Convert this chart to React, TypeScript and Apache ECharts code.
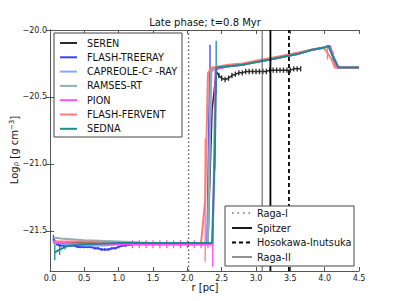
import React, { useEffect, useRef } from "react";
import * as echarts from "echarts";

// ---------- data ----------
const serenR = [0.05, 0.5, 1.0, 1.5, 2.0, 2.3, 2.36, 2.42, 2.46, 2.5, 2.55, 2.6, 2.65, 2.7, 2.75, 2.8, 2.85, 2.9, 2.95, 3.0, 3.05, 3.1, 3.15, 3.2, 3.25, 3.3, 3.35, 3.4, 3.45, 3.5, 3.55, 3.6, 3.65];
const serenY = [-21.58, -21.59, -21.59, -21.59, -21.59, -21.59, -20.6, -20.31, -20.34, -20.36, -20.37, -20.36, -20.34, -20.33, -20.32, -20.32, -20.31, -20.31, -20.31, -20.31, -20.31, -20.31, -20.31, -20.3, -20.3, -20.3, -20.3, -20.3, -20.3, -20.3, -20.29, -20.29, -20.29];
const serenErr = [0, 0, 0, 0, 0, 0, 0, 0, 0.02, 0.02, 0.02, 0.02, 0.02, 0.02, 0.02, 0.02, 0.02, 0.02, 0.02, 0.02, 0.02, 0.02, 0.02, 0.02, 0.02, 0.02, 0.02, 0.02, 0.02, 0.02, 0.02, 0.02, 0.02];

const treerayR = [0.05, 0.1, 0.15, 0.2, 0.25, 0.3, 0.35, 0.4, 0.45, 0.5, 0.55, 0.6, 0.65, 0.7, 0.75, 0.8, 0.85, 0.9, 0.95, 1.0, 1.05, 1.1, 1.2, 1.4, 1.6, 1.8, 2.0, 2.2, 2.29, 2.33, 2.38, 2.6, 2.8, 3.0, 3.2, 3.4, 3.6, 3.8, 4.0, 4.07, 4.12, 4.18, 4.5];
const treerayY = [-21.56, -21.6, -21.61, -21.61, -21.61, -21.61, -21.61, -21.62, -21.62, -21.62, -21.62, -21.62, -21.63, -21.63, -21.64, -21.64, -21.64, -21.63, -21.63, -21.62, -21.61, -21.61, -21.6, -21.6, -21.6, -21.6, -21.6, -21.6, -21.6, -20.3, -20.29, -20.27, -20.26, -20.24, -20.22, -20.2, -20.18, -20.15, -20.13, -20.12, -20.19, -20.28, -20.28];
const treerayErr = [0.03, 0.01, 0.01, 0.01, 0.01, 0.01, 0.01, 0.01, 0.01, 0.01, 0.01, 0.01, 0.01, 0.01, 0.01, 0.01, 0.01, 0.01, 0.01, 0.01, 0.01, 0.01, 0, 0, 0, 0, 0, 0, 0, 0.19, 0, 0, 0, 0, 0, 0, 0, 0, 0, 0, 0, 0, 0];

const capreoleR = [0.05, 0.2, 0.5, 0.8, 1.0, 1.5, 2.0, 2.3, 2.34, 2.38, 2.6, 2.8, 3.0, 3.2, 3.4, 3.6, 3.8, 4.0, 4.06, 4.14, 4.2, 4.5];
const capreoleY = [-21.58, -21.6, -21.61, -21.61, -21.6, -21.59, -21.59, -21.59, -20.32, -20.29, -20.27, -20.26, -20.24, -20.22, -20.2, -20.18, -20.15, -20.13, -20.12, -20.22, -20.28, -20.28];

const ramsesR = [0.05, 0.2, 0.5, 1.0, 1.5, 2.0, 2.3, 2.35, 2.4, 2.6, 2.8, 3.0, 3.2, 3.4, 3.6, 3.8, 4.0, 4.05, 4.15, 4.2, 4.5];
const ramsesY = [-21.55, -21.56, -21.57, -21.58, -21.59, -21.59, -21.59, -20.31, -20.29, -20.27, -20.26, -20.24, -20.22, -20.2, -20.18, -20.15, -20.13, -20.12, -20.22, -20.28, -20.28];

const pionR = [0.05, 0.2, 0.5, 1.0, 1.2, 1.3, 1.4, 1.5, 1.6, 1.7, 1.8, 1.9, 2.0, 2.1, 2.2, 2.3, 2.37, 2.41, 2.45, 2.6, 2.8, 3.0, 3.2, 3.4, 3.6, 3.8, 4.0, 4.08, 4.17, 4.5];
const pionY = [-21.59, -21.59, -21.6, -21.6, -21.6, -21.6, -21.6, -21.6, -21.6, -21.6, -21.6, -21.6, -21.6, -21.6, -21.6, -21.6, -21.6, -20.3, -20.29, -20.27, -20.26, -20.24, -20.22, -20.2, -20.18, -20.15, -20.13, -20.12, -20.28, -20.28];
const pionErr = [0, 0, 0, 0, 0.03, 0.03, 0.03, 0.03, 0.03, 0.03, 0.03, 0.03, 0.03, 0.03, 0.03, 0.03, 0.17, 0, 0, 0, 0, 0, 0, 0, 0, 0, 0, 0, 0, 0];

const ferventR = [0.05, 0.3, 0.6, 1.0, 1.5, 2.0, 2.2, 2.26, 2.3, 2.36, 2.6, 2.8, 3.0, 3.2, 3.4, 3.6, 3.8, 3.98, 4.04, 4.1, 4.15, 4.5];
const ferventY = [-21.58, -21.58, -21.58, -21.59, -21.59, -21.59, -21.59, -21.27, -20.32, -20.28, -20.26, -20.25, -20.23, -20.21, -20.19, -20.17, -20.15, -20.13, -20.17, -20.22, -20.28, -20.28];
const ferventErr = [0, 0, 0, 0, 0, 0, 0, 0.46, 0, 0, 0, 0, 0, 0, 0, 0, 0, 0, 0.05, 0, 0, 0];

const sednaR = [0.07, 0.14, 0.22, 0.3, 0.5, 1.0, 1.5, 2.0, 2.3, 2.36, 2.4, 2.42, 2.6, 2.8, 3.0, 3.2, 3.4, 3.6, 3.8, 4.0, 4.06, 4.12, 4.2, 4.5];
const sednaY = [-21.66, -21.64, -21.62, -21.61, -21.6, -21.59, -21.59, -21.59, -21.59, -21.59, -20.95, -20.28, -20.27, -20.26, -20.24, -20.22, -20.2, -20.18, -20.15, -20.13, -20.12, -20.2, -20.28, -20.28];
const sednaErr = [0.06, 0.04, 0.02, 0, 0, 0, 0, 0, 0, 0, 0.09, 0.2, 0, 0, 0, 0, 0, 0, 0, 0, 0, 0.04, 0, 0];

const yTicks = [-21.5, -21.0, -20.5, -20.0];

const ragaI = 2.02;
const ragaII = 3.09;
const spitzer = 3.21;
const hosokawa = 3.48;

// ---------- styling ----------
const FONT = "DejaVu Sans";
const models = [
  { name: "SEREN", r: serenR, y: serenY, err: serenErr, color: "#2a2a2a", w: 1.5 },
  { name: "FLASH-TREERAY", r: treerayR, y: treerayY, err: treerayErr, color: "#3d3dff", w: 2 },
  { name: "CAPREOLE-C\u00b2 -RAY", r: capreoleR, y: capreoleY, err: null, color: "#80a8ff", w: 2 },
  { name: "RAMSES-RT", r: ramsesR, y: ramsesY, err: null, color: "#8ab0b0", w: 2 },
  { name: "PION", r: pionR, y: pionY, err: pionErr, color: "#ff50ff", w: 2 },
  { name: "FLASH-FERVENT", r: ferventR, y: ferventY, err: ferventErr, color: "#ff7c7c", w: 2 },
  { name: "SEDNA", r: sednaR, y: sednaY, err: sednaErr, color: "#1f8c8c", w: 2 },
];

const fmt = (v: number) => (v < 0 ? "\u2212" : "") + Math.abs(v).toFixed(1);

export default function App() {
  const ref = useRef<HTMLDivElement>(null);
  useEffect(() => {
    if (!ref.current) return;
    const chart = echarts.init(ref.current, null, { renderer: "svg" });
    const YMIN = -21.8;
    const YMAX = -20.0;
    const series: any[] = [];
    models.forEach((m) => {
      series.push({
        type: "line",
        name: m.name,
        data: m.r.map((r, i) => [r, m.y[i]]),
        showSymbol: false,
        lineStyle: { color: m.color, width: m.w },
        itemStyle: { color: m.color },
        z: 3,
        silent: true,
      });
      if (m.err) {
        const ed = m.r.map((r, i) => [r, m.y[i], m.err![i]]).filter((d) => d[2] > 0);
        series.push({
          type: "custom",
          data: ed,
          encode: { x: 0, y: 1 },
          z: 3,
          silent: true,
          renderItem: (params: any, api: any) => {
            const x = api.value(0);
            const y = api.value(1);
            const e = api.value(2);
            const p1 = api.coord([x, y - e]);
            const p2 = api.coord([x, y + e]);
            return {
              type: "line",
              shape: { x1: p1[0], y1: p1[1], x2: p2[0], y2: p2[1] },
              style: { stroke: m.color, lineWidth: 1.3 },
            };
          },
        });
      }
    });
    const vlines = [
      { x: ragaI, color: "#222", w: 1, dash: [1.5, 2.5] },
      { x: ragaII, color: "#555", w: 1, dash: null },
      { x: spitzer, color: "#000", w: 1.8, dash: null },
      { x: hosokawa, color: "#000", w: 1.8, dash: [4, 3] },
    ];
    vlines.forEach((v) => {
      series.push({
        type: "line",
        data: [[v.x, YMIN], [v.x, YMAX]],
        showSymbol: false,
        lineStyle: { color: v.color, width: v.w, type: v.dash || "solid" },
        z: 4,
        silent: true,
      });
    });

    const LF = `9.7px "${FONT}"`;
    const leg1 = models.map((m, i) => {
      const yy = 43 + i * 14.3;
      return [
        { type: "line", shape: { x1: 60, y1: yy, x2: 77, y2: yy }, style: { stroke: m.color, lineWidth: 2 }, z: 101 },
        { type: "text", x: 87, y: yy, style: { text: m.name, font: LF, fill: "#111", verticalAlign: "middle" }, z: 101 },
      ];
    }).flat();
    const leg2Items = [
      { name: "Raga-I", y: 213, color: "#222", w: 1, dash: [1.5, 4] },
      { name: "Spitzer", y: 228, color: "#000", w: 1.8, dash: null },
      { name: "Hosokawa-Inutsuka", y: 242.5, color: "#000", w: 1.8, dash: [4, 3] },
      { name: "Raga-II", y: 257, color: "#222", w: 1, dash: null },
    ];
    const leg2 = leg2Items.map((it) => [
      { type: "line", shape: { x1: 232, y1: it.y, x2: 252, y2: it.y }, style: { stroke: it.color, lineWidth: it.w, lineDash: it.dash || undefined }, z: 101 },
      { type: "text", x: 257, y: it.y, style: { text: it.name, font: LF, fill: "#111", verticalAlign: "middle" }, z: 101 },
    ]).flat();

    chart.setOption({
      animation: false,
      backgroundColor: "#fff",
      textStyle: { fontFamily: FONT },
      grid: { left: 50, right: 40, top: 30, bottom: 30, containLabel: false },
      xAxis: [
        {
          type: "value", min: 0, max: 4.5, interval: 0.5,
          axisLine: { lineStyle: { color: "#555", width: 1 } },
          axisTick: { inside: true, length: 4, lineStyle: { color: "#555" } },
          axisLabel: { formatter: (v: number) => v.toFixed(1), fontSize: 8, color: "#222", margin: 3, fontFamily: FONT },
          splitLine: { show: false },
        },
        {
          type: "value", position: "top", min: 0, max: 4.5, interval: 0.5,
          axisLine: { lineStyle: { color: "#555", width: 1 } },
          axisTick: { inside: true, length: 4, lineStyle: { color: "#555" } },
          axisLabel: { show: false },
          splitLine: { show: false },
        },
      ],
      yAxis: [
        {
          type: "value", min: YMIN, max: YMAX,
          axisLine: { show: true, lineStyle: { color: "#555", width: 1 } },
          axisTick: { show: true, inside: true, length: 4, customValues: yTicks, lineStyle: { color: "#555" } },
          axisLabel: { customValues: yTicks, formatter: fmt, fontSize: 8, color: "#222", margin: 3, fontFamily: FONT },
          splitLine: { show: false },
        },
        {
          type: "value", position: "right", min: YMIN, max: YMAX,
          axisLine: { show: true, lineStyle: { color: "#555", width: 1 } },
          axisTick: { show: true, inside: true, length: 4, customValues: yTicks, lineStyle: { color: "#555" } },
          axisLabel: { show: false },
          splitLine: { show: false },
        },
      ],
      series,
      graphic: [
        { type: "text", x: 205, y: 22, style: { text: "Late phase; t=0.8 Myr", font: `10px "${FONT}"`, fill: "#111", align: "center", verticalAlign: "middle" }, z: 101 },
        { type: "text", x: 205, y: 287, style: { text: "r [pc]", font: `10px "${FONT}"`, fill: "#111", align: "center", verticalAlign: "middle" }, z: 101 },
        {
          type: "text", x: 14, y: 150, rotation: Math.PI / 2,
          style: {
            text: "{a|Log}{s|\u03c1}{a| [g cm}{p|\u22123}{a|]}",
            align: "center", verticalAlign: "middle",
            rich: {
              a: { font: `10px "${FONT}"`, fill: "#111" },
              s: { font: `7px "${FONT}"`, fill: "#111", padding: [4, 0, 0, 0] },
              p: { font: `7px "${FONT}"`, fill: "#111", padding: [0, 0, 5, 0] },
            },
          },
          z: 101,
        },
        { type: "rect", shape: { x: 54, y: 33, width: 128, height: 104 }, style: { fill: "#fff", stroke: "#444", lineWidth: 1 }, z: 100 },
        ...leg1,
        { type: "rect", shape: { x: 225, y: 206, width: 129, height: 60 }, style: { fill: "#fff", stroke: "#444", lineWidth: 1 }, z: 100 },
        ...leg2,
      ],
    });
    return () => chart.dispose();
  }, []);
  return <div ref={ref} style={{ position: "absolute", left: 0, top: 0, width: 399, height: 301 }} />;
}
